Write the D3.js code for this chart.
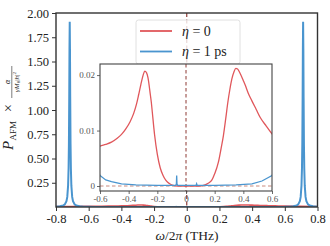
<!DOCTYPE html>
<html>
<head>
<meta charset="utf-8">
<script src="https://cdn.jsdelivr.net/npm/d3@7"></script>
<style>
  body { margin: 0; background: #fff; }
  svg { display: block; }
</style>
</head>
<body>
<script>
// frequencies (THz) and power for eta = 0
const redX = [-0.8, -0.7, -0.6, -0.56, -0.52, -0.48, -0.45, -0.42, -0.39, -0.365, -0.345, -0.33, -0.315, -0.3, -0.288, -0.275,
  -0.265, -0.25, -0.242, -0.235, -0.219, -0.2, -0.18, -0.16, -0.14, -0.114, -0.09, -0.06, 0, 0.06, 0.1, 0.133, 0.155, 0.179,
  0.2, 0.226, 0.245, 0.261, 0.277, 0.292, 0.306, 0.32, 0.335, 0.348, 0.36, 0.378, 0.4, 0.413, 0.435, 0.459, 0.49, 0.517,
  0.56, 0.6, 0.7, 0.8];
const redY = [0.0045, 0.0056, 0.0072, 0.0075, 0.0079, 0.0086, 0.0093, 0.0103, 0.0116, 0.0131, 0.0148, 0.0165, 0.0183, 0.0199,
  0.0207, 0.0204, 0.0195, 0.0167, 0.0151, 0.0133, 0.0092, 0.0057, 0.0033, 0.0019, 0.0010, 0.0004, 0.0001, 0.0, 0.0, 0.0, 0.0,
  0.0002, 0.0005, 0.0010, 0.0022, 0.0043, 0.0068, 0.0091, 0.0121, 0.0151, 0.0174, 0.0193, 0.0206, 0.0212, 0.0211, 0.0203,
  0.0190, 0.0182, 0.0167, 0.0154, 0.0138, 0.0124, 0.0108, 0.0094, 0.0070, 0.0055];

// eta = 1 ps
const blueX = [-0.8, -0.776, -0.756, -0.746, -0.736, -0.731, -0.726, -0.723, -0.721, -0.719, -0.7175, -0.716, -0.7145, -0.713,
  -0.711, -0.709, -0.706, -0.701, -0.696, -0.686, -0.676, -0.656, -0.63, -0.6, -0.56, -0.52, -0.45, -0.35, -0.2, -0.072,
  -0.067, -0.065, -0.063, -0.058, 0, 0.07, 0.074, 0.078, 0.2, 0.35, 0.46, 0.53, 0.6, 0.632, 0.652, 0.672, 0.682, 0.692,
  0.697, 0.702, 0.705, 0.707, 0.709, 0.7105, 0.712, 0.7135, 0.715, 0.717, 0.719, 0.722, 0.727, 0.732, 0.742, 0.752, 0.772, 0.8];
const blueY = [0.0035, 0.0068, 0.0153, 0.027, 0.06, 0.104, 0.22, 0.40, 0.65, 1.13, 1.63, 1.91, 1.63, 1.13,
  0.65, 0.40, 0.22, 0.104, 0.06, 0.027, 0.0153, 0.0068, 0.0035, 0.0019, 0.0011, 0.0008, 0.0004, 0.0002, 0.0001, 0.0001,
  0.0004, 0.0019, 0.0004, 0.0001, 0.0001, 0.0001, 0.0004, 0.0001, 0.0001, 0.0002, 0.0004, 0.0009, 0.0019, 0.0037, 0.0068, 0.0153, 0.027, 0.06,
  0.104, 0.22, 0.40, 0.65, 1.13, 1.63, 1.91, 1.63, 1.13, 0.65, 0.40, 0.22, 0.104, 0.06, 0.027, 0.0153, 0.0068, 0.0033];

const xTicks = [-0.8, -0.6, -0.4, -0.2, 0, 0.2, 0.4, 0.6, 0.8];
const yTicks = [0.25, 0.5, 0.75, 1.0, 1.25, 1.5, 1.75, 2.0];
const insetXTicks = [-0.6, -0.4, -0.2, 0, 0.2, 0.4, 0.6];
const insetYTicks = [0, 0.01, 0.02];
const legendLabels = ["0", "1 ps"];

const RED = "#e0575b", BLUE = "#4a95cf", DASH = "#8e3b35";
const FONT = "'Liberation Serif', 'DejaVu Serif', serif";

const width = 330, height = 246;
const svg = d3.select("body").append("svg").attr("width", width).attr("height", height);

const red = redX.map((x, i) => ({x: x, y: redY[i]}));
const blue = blueX.map((x, i) => ({x: x, y: blueY[i]}));

// ---------- main axes
const M = {left: 56, right: 317.5, top: 13, bottom: 207};
const x = d3.scaleLinear().domain([-0.8, 0.8]).range([M.left, M.right]);
const y = d3.scaleLinear().domain([0, 2]).range([M.bottom, M.top]);

const fmt = d => d === 0 ? "0" : d3.format(".1f")(d).replace("−", "-");

svg.append("clipPath").attr("id", "mainclip").append("rect")
  .attr("x", M.left).attr("y", M.top).attr("width", M.right - M.left).attr("height", M.bottom - M.top);

const main = svg.append("g").attr("clip-path", "url(#mainclip)");
main.append("line").attr("x1", x(0)).attr("x2", x(0)).attr("y1", M.top).attr("y2", M.bottom)
  .attr("stroke", DASH).attr("stroke-width", 1.2).attr("stroke-dasharray", "4,2.5");
main.append("path").datum(red).attr("d", d3.line().x(d => x(d.x)).y(d => y(d.y)).curve(d3.curveMonotoneX))
  .attr("fill", "none").attr("stroke", RED).attr("stroke-width", 1.6);
main.append("path").datum(blue).attr("d", d3.line().x(d => x(d.x)).y(d => y(d.y)))
  .attr("fill", "none").attr("stroke", BLUE).attr("stroke-width", 2);

const xAxis = svg.append("g").attr("transform", `translate(0,${M.bottom})`)
  .call(d3.axisBottom(x).tickValues(xTicks).tickFormat(fmt).tickSize(4).tickPadding(3));
const yAxis = svg.append("g").attr("transform", `translate(${M.left},0)`)
  .call(d3.axisLeft(y).tickValues(yTicks).tickFormat(d3.format(".2f")).tickSize(4).tickPadding(3));
[xAxis, yAxis].forEach(a => {
  a.attr("font-family", null);
  a.select(".domain").remove();
  a.selectAll(".tick line").attr("stroke", "#333").attr("stroke-width", 1);
  a.selectAll("text").style("font-family", FONT).style("font-size", "12.5px").attr("fill", "#222");
});

svg.append("rect").attr("x", M.left).attr("y", M.top).attr("width", M.right - M.left).attr("height", M.bottom - M.top)
  .attr("fill", "none").attr("stroke", "#333").attr("stroke-width", 1.4);

// x label
const xl = svg.append("text").attr("x", 187).attr("y", 240).attr("text-anchor", "middle")
  .style("font-family", FONT).style("font-size", "13.5px").attr("fill", "#222");
xl.append("tspan").attr("font-style", "italic").text("ω");
xl.append("tspan").text("/2");
xl.append("tspan").attr("font-style", "italic").text("π");
xl.append("tspan").text(" (THz)");

// y label, rotated
const yl = svg.append("g").attr("transform", "translate(13,150) rotate(-90)").attr("fill", "#222")
  .style("font-family", FONT);
yl.append("text").attr("x", 0).attr("y", 0).style("font-size", "15px").attr("font-style", "italic").text("P");
yl.append("text").attr("x", 9.5).attr("y", 3).style("font-size", "9px").text("AFM");
yl.append("text").attr("x", 38).attr("y", 0).style("font-size", "14px").text("×");
yl.append("text").attr("x", 68).attr("y", -3).style("font-size", "8px").attr("font-style", "italic")
  .attr("text-anchor", "middle").text("α");
yl.append("line").attr("x1", 52).attr("x2", 84).attr("y1", -1.2).attr("y2", -1.2).attr("stroke", "#222").attr("stroke-width", 0.6);
const den = yl.append("text").attr("x", 68).attr("y", 5.8).style("font-size", "7px").attr("text-anchor", "middle");
den.append("tspan").attr("font-style", "italic").text("γM");
den.append("tspan").style("font-size", "5px").attr("dy", 1.5).text("0");
den.append("tspan").attr("dy", -1.5).text("|");
den.append("tspan").attr("font-style", "italic").text("h");
den.append("tspan").text("|");
den.append("tspan").style("font-size", "5px").attr("dy", -3).text("2");

// ---------- legend
const lg = svg.append("g").style("font-family", FONT);
lg.append("rect").attr("x", 136).attr("y", 20).attr("width", 104).attr("height", 44).attr("rx", 2.5)
  .attr("fill", "#fff").attr("fill-opacity", 0.8).attr("stroke", "#d8d8d8").attr("stroke-width", 0.8);
[RED, BLUE].forEach((c, i) => {
  const yy = 31 + i * 20.5;
  lg.append("line").attr("x1", 140).attr("x2", 172).attr("y1", yy).attr("y2", yy)
    .attr("stroke", c).attr("stroke-width", 1.8);
  const t = lg.append("text").attr("x", 182).attr("y", yy + 4.5).style("font-size", "14px").attr("fill", "#222");
  t.append("tspan").attr("font-style", "italic").text("η");
  t.append("tspan").text(" = " + legendLabels[i]);
});

// ---------- inset
const I = {left: 100, right: 272, top: 64, bottom: 191};
const xi = d3.scaleLinear().domain([-0.6, 0.6]).range([I.left, I.right]);
const yi = d3.scaleLinear().domain([-0.0009, 0.022]).range([I.bottom, I.top]);

svg.append("rect").attr("x", I.left).attr("y", I.top).attr("width", I.right - I.left).attr("height", I.bottom - I.top)
  .attr("fill", "#fff");
svg.append("clipPath").attr("id", "insetclip").append("rect")
  .attr("x", I.left).attr("y", I.top).attr("width", I.right - I.left).attr("height", I.bottom - I.top);
const ins = svg.append("g").attr("clip-path", "url(#insetclip)");
ins.append("line").attr("x1", I.left).attr("x2", I.right).attr("y1", yi(0)).attr("y2", yi(0))
  .attr("stroke", "#c98a7e").attr("stroke-width", 1).attr("stroke-dasharray", "3.5,2.5");
ins.append("line").attr("x1", xi(0)).attr("x2", xi(0)).attr("y1", I.top).attr("y2", I.bottom)
  .attr("stroke", DASH).attr("stroke-width", 1).attr("stroke-dasharray", "3.5,2.5");
ins.append("path").datum(red).attr("d", d3.line().x(d => xi(d.x)).y(d => yi(d.y)).curve(d3.curveMonotoneX))
  .attr("fill", "none").attr("stroke", RED).attr("stroke-width", 1.3);
ins.append("path").datum(blue).attr("d", d3.line().x(d => xi(d.x)).y(d => yi(d.y)))
  .attr("fill", "none").attr("stroke", BLUE).attr("stroke-width", 1.3);

const xiAxis = svg.append("g").attr("transform", `translate(0,${I.bottom})`)
  .call(d3.axisBottom(xi).tickValues(insetXTicks).tickFormat(fmt).tickSize(3).tickPadding(2));
const yiAxis = svg.append("g").attr("transform", `translate(${I.left},0)`)
  .call(d3.axisLeft(yi).tickValues(insetYTicks).tickFormat(d => d === 0 ? "0" : d3.format(".2f")(d)).tickSize(3).tickPadding(2));
[xiAxis, yiAxis].forEach(a => {
  a.attr("font-family", null);
  a.select(".domain").remove();
  a.selectAll(".tick line").attr("stroke", "#444").attr("stroke-width", 0.8);
  a.selectAll("text").style("font-family", FONT).style("font-size", "9px").attr("fill", "#555");
});
svg.append("rect").attr("x", I.left).attr("y", I.top).attr("width", I.right - I.left).attr("height", I.bottom - I.top)
  .attr("fill", "none").attr("stroke", "#444").attr("stroke-width", 1.1);
</script>
</body>
</html>
